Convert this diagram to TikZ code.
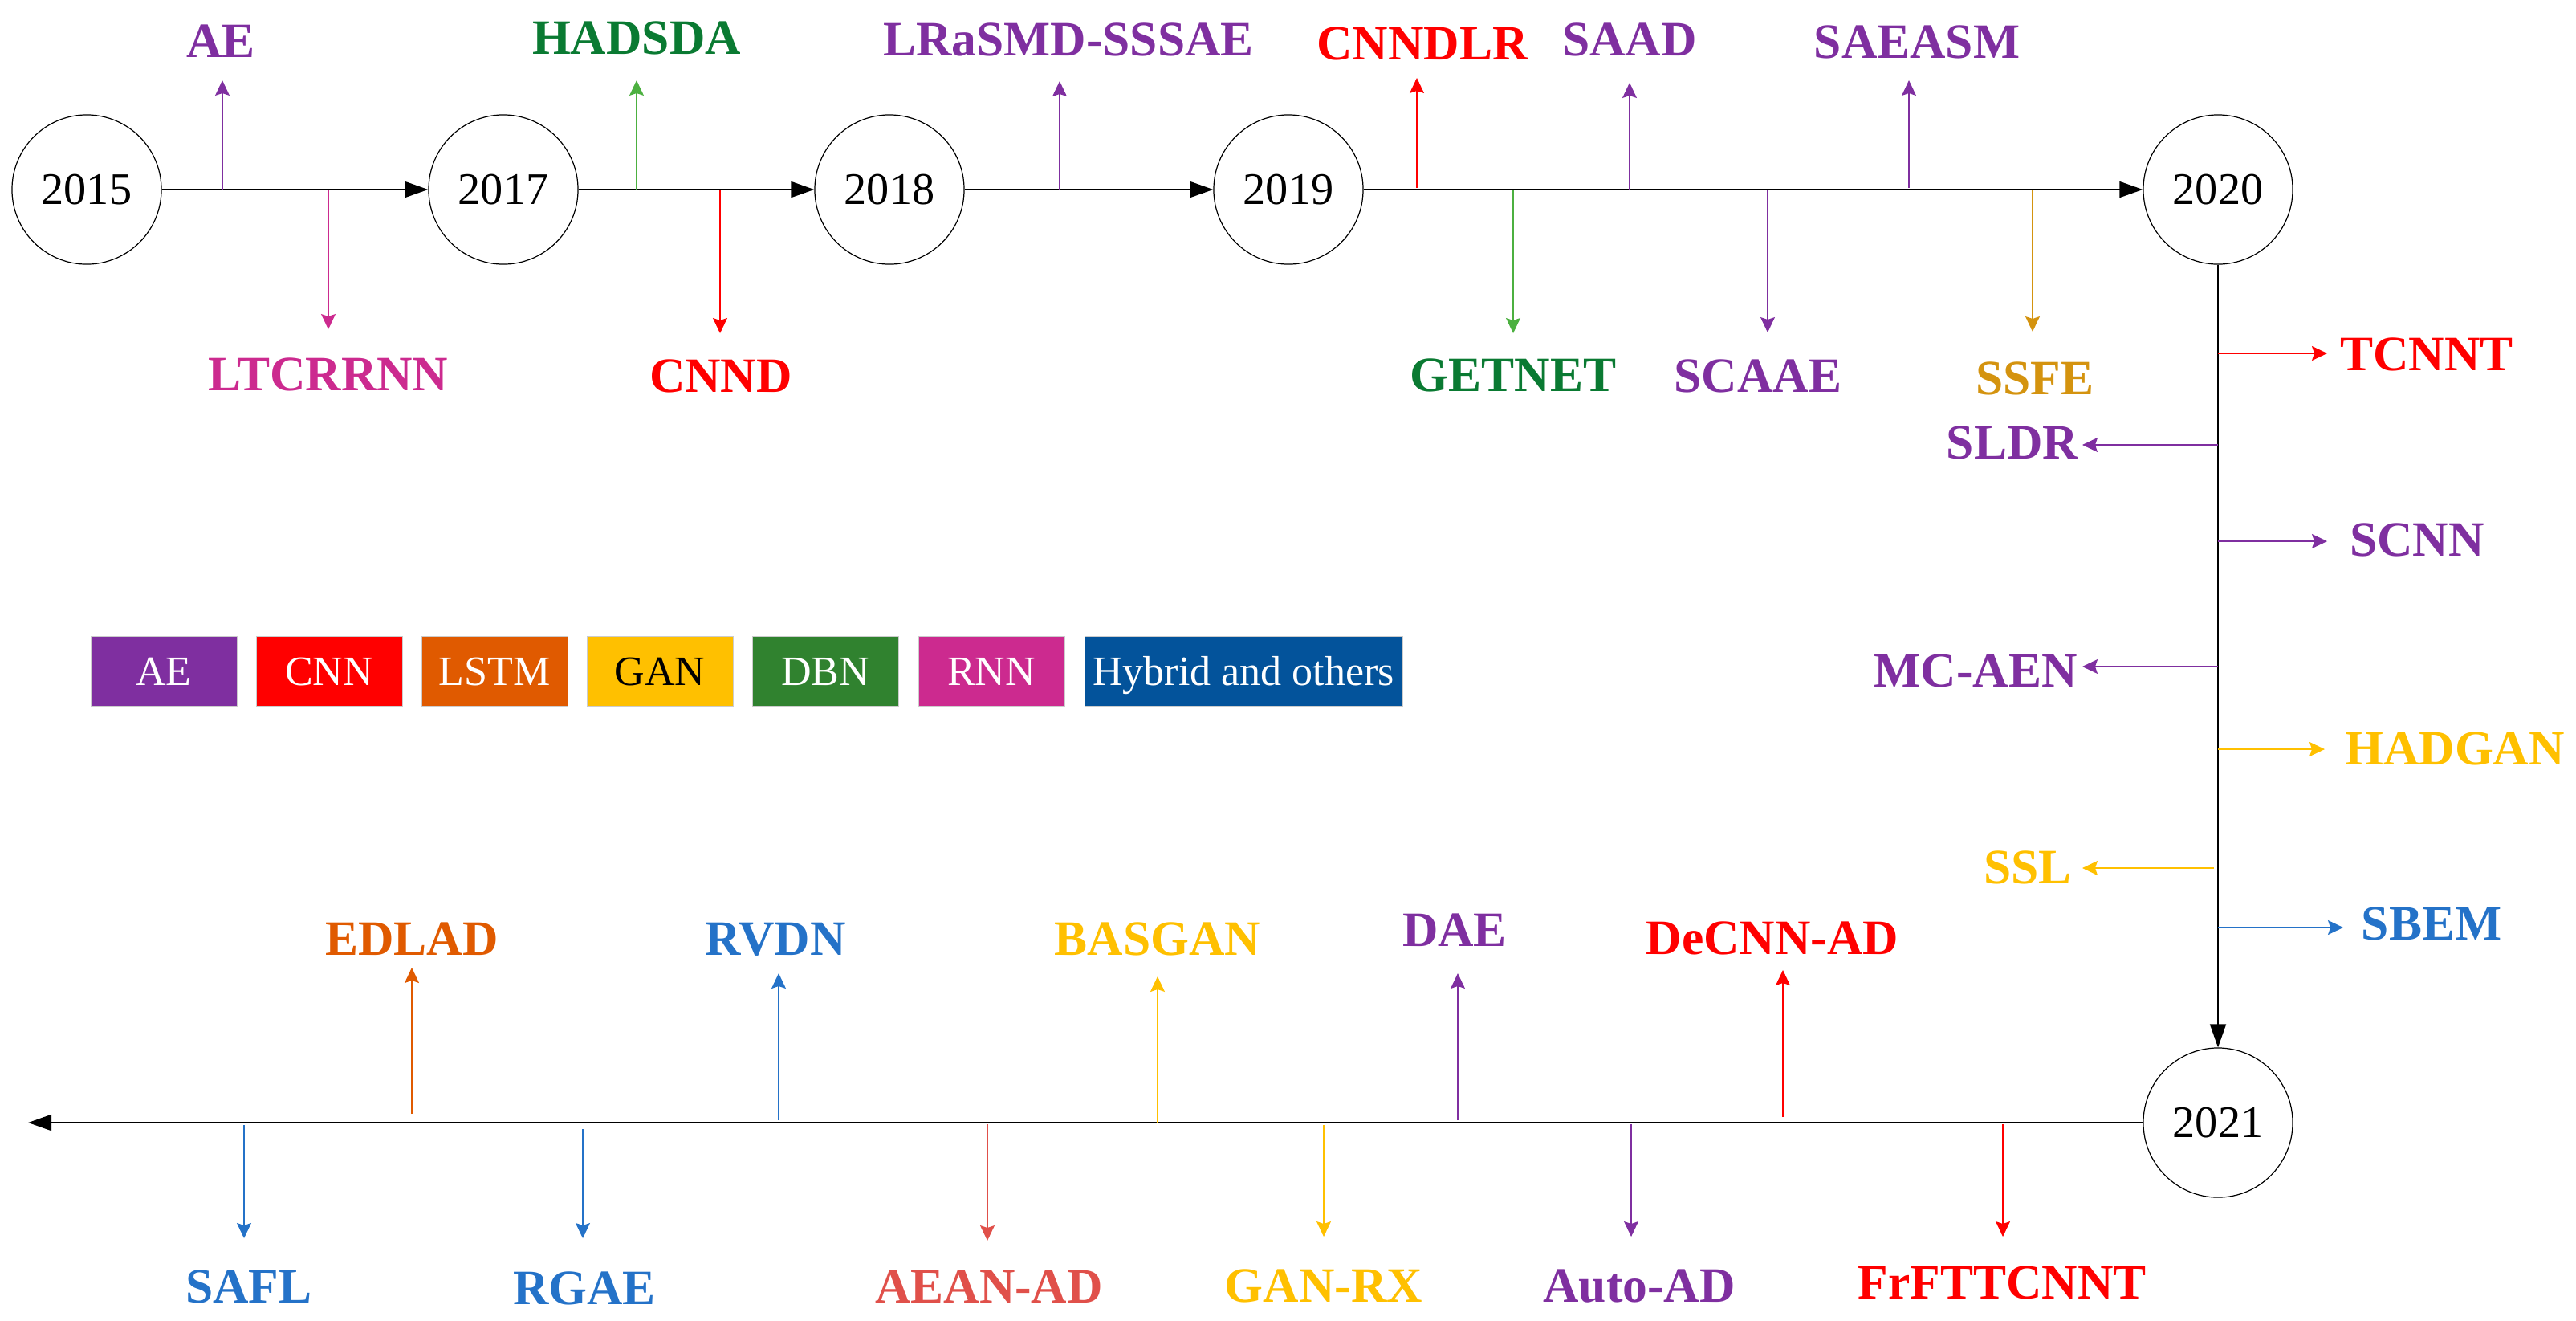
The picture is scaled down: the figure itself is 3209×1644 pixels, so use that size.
\documentclass[tikz,border=0pt]{standalone}
\usepackage{fontspec}
\setmainfont{Liberation Serif}
\usetikzlibrary{arrows.meta}
\definecolor{cAE}{HTML}{7F2FA0}
\definecolor{cCNN}{HTML}{FF0000}
\definecolor{cLSTM}{HTML}{E05A00}
\definecolor{cGAN}{HTML}{FFC000}
\definecolor{cDBN}{HTML}{30822F}
\definecolor{cDBNtext}{HTML}{0A7A32}
\definecolor{cDBNarrow}{HTML}{4CB040}
\definecolor{cRNN}{HTML}{CC2A8F}
\definecolor{cHyb}{HTML}{03539B}
\definecolor{cHyblab}{HTML}{2472C8}
\definecolor{cGold}{HTML}{D4930F}
\definecolor{cAEAN}{HTML}{E0504A}
\tikzset{
  year/.style={circle,draw,line width=0.012cm,minimum size=1.86cm,inner sep=0pt,font=\fontsize{16}{18}\selectfont},
  mainline/.style={line width=0.018cm,-{Triangle[length=0.29cm,width=0.2cm]}},
  branch/.style={line width=0.011cm,-{Stealth[length=0.19cm,width=0.18cm,inset=0.03cm]}},
  lbl/.style={font=\fontsize{17.5}{20}\selectfont\bfseries,inner sep=0pt,anchor=base},
  legbox/.style={minimum width=1.82cm,minimum height=0.87cm,inner sep=0pt,text height=0.345cm,text depth=0pt,draw=black!20,line width=0.2pt,text=white,font=\fontsize{14.8}{17}\selectfont},
}
% name, x, y0, ytip, labx, labbase, arrowcolor, textcolor, text
\newcommand{\vbr}[9]{%
  \coordinate (#1s) at (#2,#3);
  \coordinate (#1t) at (#2,#4);
  \draw[branch,draw=#7] (#1s) -- (#1t);
  \node[lbl,text=#8] (#1) at (#5,#6) {#9};}
% name, y, x0, xtip, labx, labbase, color, text
\newcommand{\hbr}[8]{%
  \coordinate (#1s) at (#3,#2);
  \coordinate (#1t) at (#4,#2);
  \draw[branch,draw=#7] (#1s) -- (#1t);
  \node[lbl,text=#7] (#1) at (#5,#6) {#8};}
\begin{document}
\begin{tikzpicture}[x=0.01cm,y=-0.01cm]
\useasboundingbox (0,0) rectangle (3209,1644);

% years
\node[year] (y2015) at (108,236) {2015};
\node[year] (y2017) at (627,236) {2017};
\node[year] (y2018) at (1108,236) {2018};
\node[year] (y2019) at (1605,236) {2019};
\node[year] (y2020) at (2763,236) {2020};
\node[year] (y2021) at (2763,1398) {2021};
\coordinate (leftend) at (35,1398);

\draw[mainline] (y2015) -- (y2017);
\draw[mainline] (y2017) -- (y2018);
\draw[mainline] (y2018) -- (y2019);
\draw[mainline] (y2019) -- (y2020);
\draw[mainline] (y2020) -- (y2021);
\draw[mainline] (y2021) -- (leftend);

% top row, upward
\vbr{ae}{277}{236}{100}{275}{71}{cAE}{cAE}{AE}
\vbr{hadsda}{793}{236}{100}{793}{67}{cDBNarrow}{cDBNtext}{HADSDA}
\vbr{lrasmd}{1320}{236}{101}{1331}{69}{cAE}{cAE}{LRaSMD-SSSAE}
\vbr{cnndlr}{1765}{234}{97}{1772}{74}{cCNN}{cCNN}{CNNDLR}
\vbr{saad}{2030}{236}{103}{2030}{69}{cAE}{cAE}{SAAD}
\vbr{saeasm}{2378}{234}{100}{2388}{72}{cAE}{cAE}{SAEASM}
% top row, downward
\vbr{ltcrrnn}{409}{236}{410}{409}{486}{cRNN}{cRNN}{LTCRRNN}
\vbr{cnnd}{897}{236}{415}{898}{488}{cCNN}{cCNN}{CNND}
\vbr{getnet}{1885}{236}{415}{1885}{487}{cDBNarrow}{cDBNtext}{GETNET}
\vbr{scaae}{2202}{236}{414}{2190}{488}{cAE}{cAE}{SCAAE}
\vbr{ssfe}{2532}{236}{413}{2535}{491}{cGold}{cGold}{SSFE}

% right column
\hbr{tcnnt}{440}{2763}{2899}{3023}{461}{cCNN}{TCNNT}
\hbr{sldr}{554}{2763}{2594}{2507}{571}{cAE}{SLDR}
\hbr{scnn}{674}{2763}{2899}{3011}{692}{cAE}{SCNN}
\hbr{mcaen}{830}{2763}{2594}{2461}{855}{cAE}{MC-AEN}
\hbr{hadgan}{933}{2763}{2896}{3058}{952}{cGAN}{HADGAN}
\hbr{ssl}{1081}{2758}{2594}{2526}{1100}{cGAN}{SSL}
\hbr{sbem}{1155}{2763}{2919}{3029}{1170}{cHyblab}{SBEM}

% bottom row, upward
\vbr{edlad}{513}{1387}{1205}{513}{1189}{cLSTM}{cLSTM}{EDLAD}
\vbr{rvdn}{970}{1395}{1212}{966}{1189}{cHyblab}{cHyblab}{RVDN}
\vbr{basgan}{1442}{1398}{1216}{1442}{1189}{cGAN}{cGAN}{BASGAN}
\vbr{dae}{1816}{1395}{1212}{1812}{1178}{cAE}{cAE}{DAE}
\vbr{decnn}{2221}{1391}{1208}{2208}{1188}{cCNN}{cCNN}{DeCNN-AD}
% bottom row, downward
\vbr{safl}{304}{1401}{1542}{310}{1622}{cHyblab}{cHyblab}{SAFL}
\vbr{rgae}{726}{1406}{1542}{728}{1624}{cHyblab}{cHyblab}{RGAE}
\vbr{aean}{1230}{1400}{1545}{1232}{1622}{cAEAN}{cAEAN}{AEAN-AD}
\vbr{ganrx}{1649}{1401}{1540}{1649}{1621}{cGAN}{cGAN}{GAN-RX}
\vbr{autoad}{2032}{1400}{1540}{2042}{1621}{cAE}{cAE}{Auto-AD}
\vbr{frft}{2495}{1400}{1540}{2494}{1617}{cCNN}{cCNN}{FrFTTCNNT}

% legend
\node[legbox,fill=cAE] (legAE) at (204,836) {AE};
\node[legbox,fill=cCNN] (legCNN) at (410,836) {CNN};
\node[legbox,fill=cLSTM] (legLSTM) at (616,836) {LSTM};
\node[legbox,fill=cGAN,text=black] (legGAN) at (822,836) {GAN};
\node[legbox,fill=cDBN] (legDBN) at (1028,836) {DBN};
\node[legbox,fill=cRNN] (legRNN) at (1235,836) {RNN};
\node[legbox,fill=cHyb,minimum width=3.96cm] (legHyb) at (1549,836) {Hybrid and others};
\end{tikzpicture}
\end{document}
